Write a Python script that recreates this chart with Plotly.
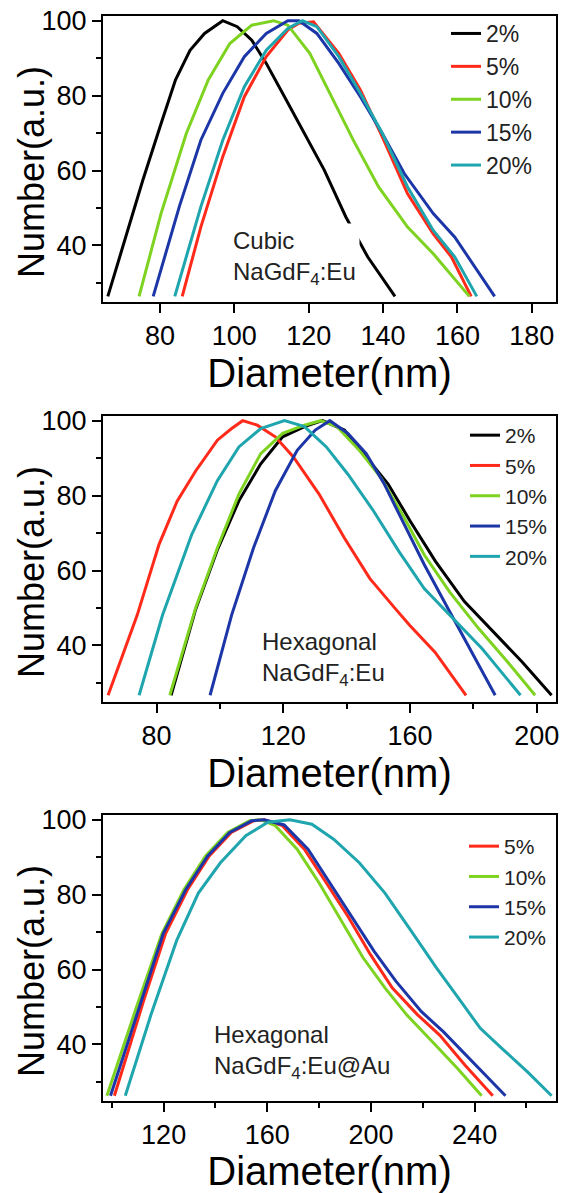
import plotly.graph_objects as go

# ---------------- data ----------------
colors = {"2%": "#000000", "5%": "#ff2a1a", "10%": "#7ed321", "15%": "#1c36a8", "20%": "#1fa5ad"}

# Panel 1: Cubic NaGdF4:Eu
cubic_d_2 = [66.0, 70.5, 75.4, 80.3, 84.2, 88.1, 92.0, 96.9, 100.8, 104.7, 108.6, 113.5, 118.3, 124.2, 130.0, 135.9, 143.2]
cubic_n_2 = [26.4, 41.3, 57.4, 72.5, 84.2, 92.1, 96.6, 100.0, 98.4, 94.8, 88.6, 79.7, 70.8, 60.1, 47.6, 36.9, 26.4]
cubic_d_5 = [86.0, 91.0, 96.9, 102.7, 108.6, 114.4, 117.4, 121.3, 128.1, 133.9, 139.8, 146.6, 153.5, 158.4, 163.7]
cubic_n_5 = [26.4, 44.9, 63.7, 79.7, 90.4, 97.5, 99.3, 99.7, 91.3, 81.5, 69.0, 53.8, 43.1, 36.9, 26.4]
cubic_d_10 = [74.4, 80.3, 87.1, 93.0, 98.8, 104.7, 110.5, 114.4, 120.3, 126.1, 132.0, 138.8, 146.6, 153.5, 163.2]
cubic_n_10 = [26.4, 48.5, 69.9, 84.2, 93.9, 98.8, 100.0, 98.8, 91.3, 79.7, 68.1, 55.6, 44.9, 37.8, 26.4]
cubic_d_15 = [78.2, 85.2, 91.0, 96.9, 102.7, 108.6, 114.4, 117.4, 122.2, 128.1, 133.9, 139.8, 145.7, 153.5, 159.3, 170.0]
cubic_n_15 = [26.4, 50.3, 68.1, 80.6, 90.4, 96.6, 100.0, 100.0, 96.6, 88.6, 79.7, 69.9, 59.2, 48.5, 42.2, 26.4]
cubic_d_20 = [84.0, 91.0, 96.9, 102.7, 108.6, 114.4, 118.3, 122.2, 128.1, 133.9, 139.8, 146.6, 153.5, 159.3, 165.2]
cubic_n_20 = [26.4, 50.3, 68.1, 82.4, 92.1, 97.9, 100.0, 98.4, 90.4, 80.6, 69.9, 55.6, 44.0, 36.9, 26.4]

# Panel 2: Hexagonal NaGdF4:Eu
hex_d_2 = [84.6, 92.3, 99.2, 106.0, 112.9, 119.8, 126.7, 132.4, 139.3, 146.2, 153.1, 160.0, 168.0, 177.2, 186.4, 195.5, 204.7]
hex_n_2 = [26.7, 49.5, 65.5, 78.6, 88.5, 95.7, 98.4, 100.0, 97.5, 90.3, 83.1, 73.3, 62.5, 51.7, 43.6, 35.5, 26.7]
hex_d_5 = [64.7, 73.9, 80.8, 86.5, 92.3, 99.2, 103.7, 107.2, 111.8, 117.5, 123.2, 131.3, 139.3, 147.3, 155.3, 159.9, 167.9, 177.7]
hex_n_5 = [26.7, 48.1, 67.0, 78.5, 86.5, 94.8, 97.9, 100.0, 98.8, 95.7, 90.3, 80.4, 68.7, 57.9, 49.9, 45.4, 38.2, 26.7]
hex_d_10 = [84.2, 92.3, 99.2, 106.0, 112.9, 119.8, 126.7, 131.8, 137.0, 143.9, 150.8, 157.6, 164.5, 172.5, 181.7, 190.9, 199.5]
hex_n_10 = [26.7, 49.9, 66.0, 80.4, 91.2, 96.6, 98.8, 100.0, 98.4, 92.2, 84.8, 75.0, 64.2, 54.3, 44.5, 35.5, 26.7]
hex_d_15 = [96.9, 103.7, 110.6, 117.5, 124.4, 130.1, 134.7, 140.4, 146.2, 151.9, 157.6, 164.5, 171.4, 179.4, 186.9]
hex_n_15 = [26.7, 48.1, 66.0, 81.3, 92.1, 97.5, 100.0, 96.6, 91.2, 83.1, 73.3, 61.6, 50.8, 38.2, 26.7]
hex_d_20 = [74.5, 81.9, 91.1, 99.2, 106.0, 112.9, 120.4, 126.7, 133.6, 140.4, 148.5, 156.5, 164.5, 173.7, 182.8, 194.9]
hex_n_20 = [26.7, 48.1, 69.6, 84.0, 93.0, 97.9, 100.0, 98.4, 93.0, 85.7, 75.9, 65.1, 55.2, 47.2, 39.1, 26.7]

# Panel 3: Hexagonal NaGdF4:Eu@Au
au_d_5 = [101.0, 112.2, 120.7, 129.2, 137.6, 146.1, 154.6, 158.8, 165.8, 174.3, 182.8, 191.2, 199.7, 208.2, 218.0, 226.5, 236.4, 247.0]
au_n_5 = [26.3, 51.5, 69.5, 81.3, 90.3, 96.6, 99.7, 100.0, 98.4, 92.1, 83.1, 74.1, 64.1, 55.1, 47.9, 42.5, 34.4, 26.3]
au_d_10 = [98.1, 109.4, 119.3, 127.8, 136.2, 144.7, 153.2, 157.4, 163.1, 171.5, 180.0, 188.5, 196.9, 205.4, 213.8, 223.7, 233.5, 242.7]
au_n_10 = [26.3, 49.7, 69.5, 81.3, 90.3, 96.6, 99.7, 100.0, 98.4, 92.1, 83.1, 73.2, 63.2, 55.1, 47.9, 40.7, 33.5, 26.3]
au_d_15 = [99.5, 111.0, 119.8, 128.5, 137.0, 145.5, 154.0, 158.8, 166.5, 175.7, 184.2, 192.6, 201.1, 209.6, 219.4, 227.9, 239.2, 251.9]
au_n_15 = [26.3, 51.0, 69.5, 81.3, 90.3, 96.6, 99.7, 100.0, 98.6, 92.1, 83.1, 74.1, 65.0, 56.9, 48.8, 43.4, 35.3, 26.3]
au_d_20 = [105.2, 115.1, 125.0, 133.4, 141.9, 151.7, 160.2, 168.7, 177.2, 185.6, 195.5, 205.4, 215.3, 225.2, 233.7, 242.2, 250.6, 260.5, 269.7]
au_n_20 = [26.3, 47.9, 67.7, 80.4, 88.5, 95.7, 99.3, 100.0, 98.8, 94.8, 88.5, 80.4, 70.5, 60.5, 52.4, 44.3, 38.9, 32.6, 26.3]

panels = [
    {"labels": ["2%", "5%", "10%", "15%", "20%"],
     "d": [cubic_d_2, cubic_d_5, cubic_d_10, cubic_d_15, cubic_d_20],
     "n": [cubic_n_2, cubic_n_5, cubic_n_10, cubic_n_15, cubic_n_20]},
    {"labels": ["2%", "5%", "10%", "15%", "20%"],
     "d": [hex_d_2, hex_d_5, hex_d_10, hex_d_15, hex_d_20],
     "n": [hex_n_2, hex_n_5, hex_n_10, hex_n_15, hex_n_20]},
    {"labels": ["5%", "10%", "15%", "20%"],
     "d": [au_d_5, au_d_10, au_d_15, au_d_20],
     "n": [au_n_5, au_n_10, au_n_15, au_n_20]},
]

x_ranges = [[64.7, 186.5], [63.1, 206.1], [96.6, 271.4]]
x_dtick = [20, 40, 40]
x_tick0 = [80, 80, 80]
x_minor = [None, 20, 20]
y_range = [24.9, 101.25]
sample_text = ["Cubic<br>NaGdF<sub>4</sub>:Eu",
               "Hexagonal<br>NaGdF<sub>4</sub>:Eu",
               "Hexagonal<br>NaGdF<sub>4</sub>:Eu@Au"]
text_pos = [(98.6, 36.6), (112.1, 36.3), (137.7, 38.0)]

# ---------------- layout geometry ----------------
W, H = 568, 1193
x_dom = [103 / W, 556 / W]
y_px = [(16, 302), (416, 702), (815, 1101)]
y_doms = [[1 - b / H, 1 - t / H] for t, b in y_px]

FONT = "Liberation Sans, Arial, sans-serif"
fig = go.Figure()

for i, p in enumerate(panels):
    ax = "" if i == 0 else str(i + 1)
    leg = "legend" if i == 0 else f"legend{i + 1}"
    for lab, d, n in zip(p["labels"], p["d"], p["n"]):
        fig.add_trace(go.Scatter(
            x=d, y=n, mode="lines", name=lab,
            line=dict(color=colors[lab], width=3),
            xaxis="x" + ax, yaxis="y" + ax, legend=leg,
        ))

axis_common = dict(
    showline=True, linecolor="black", linewidth=2, mirror=True,
    ticks="outside", tickcolor="black", tickwidth=2, ticklen=9,
    showgrid=False, zeroline=False,
    tickfont=dict(family=FONT, size=27, color="black"),
)

layout = dict(
    width=W, height=H, margin=dict(l=0, r=0, t=0, b=0, autoexpand=False),
    paper_bgcolor="white", plot_bgcolor="white",
    showlegend=True,
)
for i in range(3):
    ax = "" if i == 0 else str(i + 1)
    xa = dict(axis_common, domain=x_dom, range=x_ranges[i], anchor="y" + ax,
              tickmode="linear", tick0=x_tick0[i], dtick=x_dtick[i],
              title=dict(text="Diameter(nm)", font=dict(family=FONT, size=40, color="black"), standoff=2))
    if x_minor[i]:
        xa["minor"] = dict(dtick=x_minor[i], tick0=80, ticklen=5, tickwidth=2, tickcolor="black", ticks="outside")
    ya = dict(axis_common, domain=y_doms[i], range=y_range, anchor="x" + ax,
              tickmode="array", tickvals=[40, 60, 80, 100],
              minor=dict(tickvals=[30, 50, 70, 90], ticklen=5, tickwidth=2, tickcolor="black", ticks="outside"))
    layout["xaxis" + ax] = xa
    layout["yaxis" + ax] = ya

leg_font = [23, 21, 21]
leg_x = [446, 465, 464]
leg_top = [12, 415, 826]
for i in range(3):
    key = "legend" if i == 0 else f"legend{i + 1}"
    layout[key] = dict(
        x=leg_x[i] / W, xanchor="left", y=1 - leg_top[i] / H, yanchor="top",
        bgcolor="rgba(0,0,0,0)", borderwidth=0,
        font=dict(family=FONT, size=leg_font[i], color="#222222"),
        tracegroupgap=0,
    )

fig.update_layout(**layout)

for i in range(3):
    ax = "" if i == 0 else str(i + 1)
    # sample description
    fig.add_annotation(
        x=text_pos[i][0], y=text_pos[i][1], xref="x" + ax, yref="y" + ax,
        text=sample_text[i], showarrow=False, align="left",
        xanchor="left", yanchor="middle", bgcolor="white", borderpad=3,
        font=dict(family=FONT, size=24, color="#222222"),
    )
    # y-axis title (placed to overlap the tick-label column like the original)
    t, b = y_px[i]
    fig.add_annotation(
        x=31 / W, y=1 - ((t + b) / 2 + 13) / H, xref="paper", yref="paper",
        text="Number(a.u.)", textangle=-90, showarrow=False,
        xanchor="center", yanchor="middle",
        font=dict(family=FONT, size=36, color="black"),
    )

fig.write_html("out.html")
